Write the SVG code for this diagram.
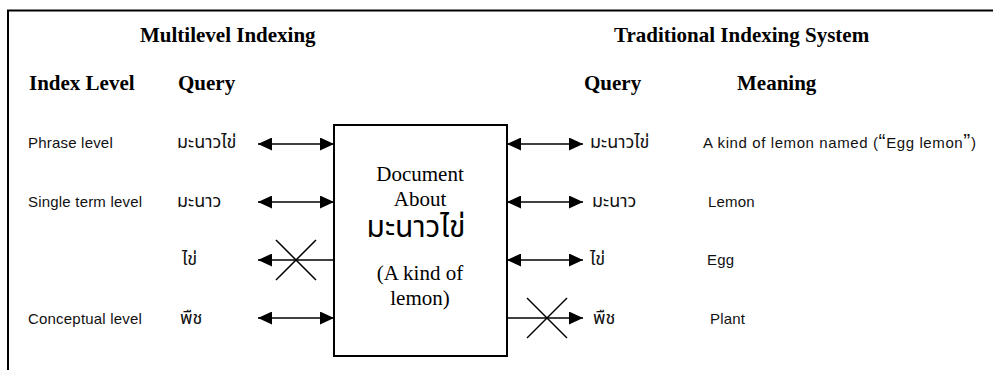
<svg xmlns="http://www.w3.org/2000/svg" width="993" height="370" viewBox="0 0 993 370">
  <style>
    .head { font-family: "Liberation Serif", "Times New Roman", serif; font-weight: bold; font-size: 21px; fill: #000; }
    .lbl { font-family: "Liberation Sans", Arial, sans-serif; font-size: 15px; fill: #111; letter-spacing: 0.2px; }
    .wide { letter-spacing: 0.6px; }
    .q { font-size: 21px; }
    .thai { font-family: "Liberation Sans", "Noto Sans Thai", "Noto Sans", sans-serif; font-size: 18px; fill: #111; }
    .doc { font-family: "Liberation Serif", "Times New Roman", serif; font-size: 21px; fill: #000; text-anchor: middle; }
    .docthai { font-family: "Liberation Serif", "Noto Sans Thai", serif; font-size: 30px; fill: #000; text-anchor: middle; }
    .frame { fill: none; stroke: #000; stroke-width: 2; }
    .conn line { stroke: #000; stroke-width: 1.6; }
    .cross line { stroke: #000; stroke-width: 1.5; }
  </style>
  <defs>
    <marker id="ah" viewBox="0 0 14 13" refX="14" refY="6.5" markerWidth="14" markerHeight="13" orient="auto-start-reverse" markerUnits="userSpaceOnUse">
      <path d="M0,0 L14,6.5 L0,13 z" fill="#000"/>
    </marker>
  </defs>

  <rect width="993" height="370" fill="#fff"/>

  <!-- outer frame (top and left edges visible) -->
  <path class="frame" d="M8,372 V10.5 H995"/>

  <!-- column headings -->
  <g id="headings">
    <text class="head" x="140" y="42">Multilevel Indexing</text>
    <text class="head" x="614" y="42">Traditional Indexing System</text>
    <text class="head" x="29" y="90">Index Level</text>
    <text class="head" x="178" y="90">Query</text>
    <text class="head" x="584" y="90">Query</text>
    <text class="head" x="737" y="90">Meaning</text>
  </g>

  <!-- index levels -->
  <g id="levels">
    <text class="lbl" x="28" y="148">Phrase level</text>
    <text class="lbl" x="28" y="207">Single term level</text>
    <text class="lbl" x="28" y="324">Conceptual level</text>
  </g>

  <!-- multilevel queries -->
  <g id="query-left">
    <text class="thai" x="177" y="148">มะนาวไข่</text>
    <text class="thai" x="177" y="207">มะนาว</text>
    <text class="thai" x="182" y="265">ไข่</text>
    <text class="thai" x="180" y="324">พืช</text>
  </g>

  <!-- document node -->
  <g id="document">
    <rect x="334" y="125" width="173" height="231" fill="#fff" stroke="#000" stroke-width="2"/>
    <text class="doc" x="420" y="181">Document</text>
    <text class="doc" x="420" y="206">About</text>
    <text class="docthai" x="416" y="237">มะนาวไข่</text>
    <text class="doc" x="420" y="280">(A kind of</text>
    <text class="doc" x="420" y="305">lemon)</text>
  </g>

  <!-- traditional queries -->
  <g id="query-right">
    <text class="thai" x="590" y="148">มะนาวไข่</text>
    <text class="thai" x="592" y="207">มะนาว</text>
    <text class="thai" x="590" y="265">ไข่</text>
    <text class="thai" x="593" y="324">พืช</text>
  </g>

  <!-- meanings -->
  <g id="meanings">
    <text class="lbl wide" x="703" y="148">A kind of lemon named (<tspan class="q">“</tspan>Egg lemon<tspan class="q">”</tspan>)</text>
    <text class="lbl" x="708" y="207">Lemon</text>
    <text class="lbl" x="707" y="265">Egg</text>
    <text class="lbl" x="710" y="324">Plant</text>
  </g>

  <!-- connectors -->
  <g id="connectors" class="conn">
    <line x1="258" y1="144" x2="334" y2="144" marker-start="url(#ah)" marker-end="url(#ah)"/>
    <line x1="258" y1="202" x2="334" y2="202" marker-start="url(#ah)" marker-end="url(#ah)"/>
    <line x1="334" y1="260" x2="258" y2="260" marker-end="url(#ah)"/>
    <line x1="258" y1="318" x2="334" y2="318" marker-start="url(#ah)" marker-end="url(#ah)"/>

    <line x1="507" y1="144" x2="583" y2="144" marker-start="url(#ah)" marker-end="url(#ah)"/>
    <line x1="507" y1="202" x2="583" y2="202" marker-start="url(#ah)" marker-end="url(#ah)"/>
    <line x1="507" y1="260" x2="583" y2="260" marker-start="url(#ah)" marker-end="url(#ah)"/>
    <line x1="507" y1="318" x2="583" y2="318" marker-end="url(#ah)"/>
  </g>

  <!-- blocked-match crosses -->
  <g id="crosses" class="cross">
    <line x1="276" y1="240" x2="316" y2="280"/>
    <line x1="276" y1="280" x2="316" y2="240"/>
    <line x1="527" y1="298" x2="567" y2="338"/>
    <line x1="527" y1="338" x2="567" y2="298"/>
  </g>
</svg>
